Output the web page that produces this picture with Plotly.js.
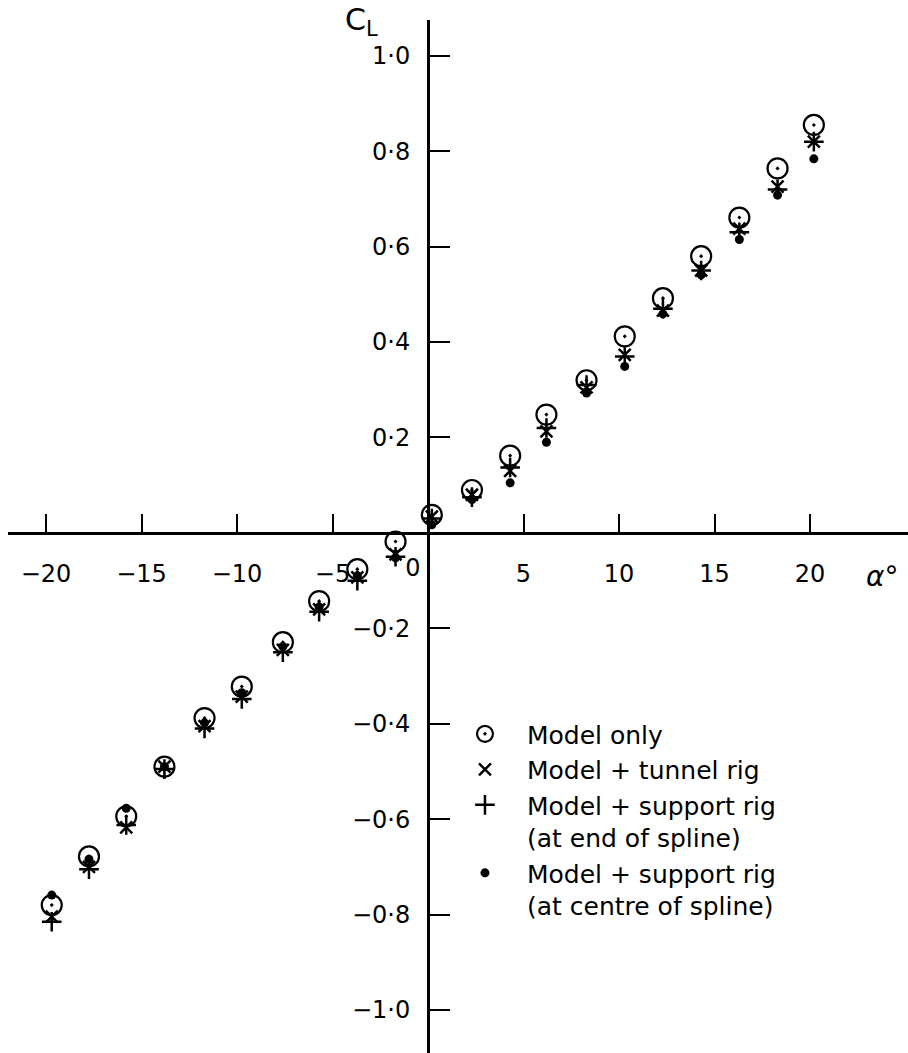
<!DOCTYPE html>
<html>
<head>
<meta charset="utf-8">
<script src="https://cdn.plot.ly/plotly-3.0.1.min.js"></script>
<style>html,body{margin:0;padding:0;background:#fff;}#chart{width:908px;height:1053px;}</style>
</head>
<body>
<div id="chart"></div>
<script>
// angle of incidence (degrees)
const alpha = [-19.7, -17.75, -15.8, -13.8, -11.7, -9.75, -7.6, -5.7, -3.7, -1.7, 0.2, 2.3, 4.3, 6.2, 8.3, 10.3, 12.3, 14.3, 16.3, 18.3, 20.2];
// lift coefficient C_L for each configuration
const clModelOnly   = [-0.780, -0.678, -0.594, -0.490, -0.388, -0.322, -0.229, -0.143, -0.076, -0.018, 0.038, 0.090, 0.162, 0.248, 0.320, 0.412, 0.492, 0.580, 0.661, 0.764, 0.855];
const clTunnelRig   = [-0.804, -0.700, -0.617, -0.490, -0.405, -0.343, -0.245, -0.160, -0.093, -0.045, 0.034, 0.080, 0.130, 0.213, 0.305, 0.373, 0.466, 0.550, 0.638, 0.726, 0.820];
const clSupportEnd  = [-0.815, -0.705, -0.612, -0.495, -0.410, -0.348, -0.250, -0.165, -0.100, -0.050, 0.030, 0.075, 0.137, 0.220, 0.310, 0.370, 0.470, 0.550, 0.630, 0.720, 0.820];
const clSupportCtr  = [-0.759, -0.684, -0.577, -0.490, -0.398, -0.335, -0.238, -0.155, -0.090, -0.052, 0.017, 0.070, 0.105, 0.190, 0.293, 0.349, 0.459, 0.541, 0.615, 0.708, 0.784];

const seriesNames = ["Model only", "Model + tunnel rig", "Model + support rig<br>(at end of spline)", "Model + support rig<br>(at centre of spline)"];

const xTickVals = [-20, -15, -10, -5, 5, 10, 15, 20];
const xTickText = ["\u221220", "\u221215", "\u221210", "\u22125", "5", "10", "15", "20"];
const originTickVals = [-0.79];
const originTickText = ["0"];
const yTickVals = [-1.0, -0.8, -0.6, -0.4, -0.2, 0.2, 0.4, 0.6, 0.8, 1.0];
const yTickText = ["\u22121\u00b70", "\u22120\u00b78", "\u22120\u00b76", "\u22120\u00b74", "\u22120\u00b72", "0\u00b72", "0\u00b74", "0\u00b76", "0\u00b78", "1\u00b70"];

const FONT = "DejaVu Sans, Liberation Sans, sans-serif";

const traces = [
  {x: alpha, y: clModelOnly, name: seriesNames[0], mode: "markers", type: "scatter",
   marker: {symbol: "circle-open-dot", size: 20, color: "#000", line: {width: 2.2, color: "#000"}}},
  {x: alpha, y: clTunnelRig, name: seriesNames[1], mode: "markers", type: "scatter",
   marker: {symbol: "x-thin-open", size: 12, color: "#000", line: {width: 2.5, color: "#000"}}},
  {x: alpha, y: clSupportEnd, name: seriesNames[2], mode: "markers", type: "scatter",
   marker: {symbol: "cross-thin-open", size: 14, color: "#000", line: {width: 2.5, color: "#000"}}},
  {x: alpha, y: clSupportCtr, name: seriesNames[3], mode: "markers", type: "scatter",
   marker: {symbol: "circle", size: 9, color: "#000", line: {width: 0}}},
  {x: [], y: [], xaxis: "x2", yaxis: "y", mode: "markers", type: "scatter", showlegend: false, hoverinfo: "skip"}
];

const layout = {
  width: 908, height: 1053,
  margin: {l: 8, r: 0, t: 20, b: 0, pad: 0},
  paper_bgcolor: "#fff", plot_bgcolor: "#fff",
  font: {family: FONT, color: "#000", size: 24},
  showlegend: true,
  legend: {x: 0.4833, y: 0.331, xanchor: "left", yanchor: "top", bgcolor: "rgba(0,0,0,0)",
           font: {family: FONT, size: 25, color: "#000"}, valign: "top", itemwidth: 74, tracegroupgap: 0},
  xaxis: {range: [-21.99, 25.13], anchor: "free", position: 0.5034, showgrid: false, zeroline: false,
          showline: true, linecolor: "#000", linewidth: 3,
          ticks: "inside", ticklen: 18, tickwidth: 2, tickcolor: "#000",
          tickmode: "array", tickvals: xTickVals, ticktext: xTickText,
          tickfont: {family: FONT, size: 24, color: "#000"}, ticklabelstandoff: 18},
  xaxis2: {range: [-21.99, 25.13], overlaying: "x", anchor: "free", position: 0.5034, side: "bottom",
          showgrid: false, zeroline: false, showline: false, ticks: "",
          tickmode: "array", tickvals: originTickVals, ticktext: originTickText,
          tickfont: {family: FONT, size: 24, color: "#000"}, ticklabelstandoff: 18},
  yaxis: {range: [-1.090, 1.075], anchor: "free", position: 0.4667, showgrid: false, zeroline: false,
          showline: true, linecolor: "#000", linewidth: 3,
          ticks: "inside", ticklen: 20, tickwidth: 2, tickcolor: "#000",
          tickmode: "array", tickvals: yTickVals, ticktext: yTickText,
          tickfont: {family: FONT, size: 24, color: "#000"}, ticklabelstandoff: 12},
  annotations: [
    {x: -3.46, y: 1.072, xref: "x", yref: "y", text: "C<sub>L</sub>", showarrow: false,
     font: {family: FONT, size: 30, color: "#000"}},
    {x: 23.77, y: -0.091, xref: "x", yref: "y", text: "<i>α</i>°", showarrow: false,
     font: {family: FONT, size: 28, color: "#000"}}
  ]
};

Plotly.newPlot("chart", traces, layout, {staticPlot: true, displayModeBar: false});
</script>
</body>
</html>
